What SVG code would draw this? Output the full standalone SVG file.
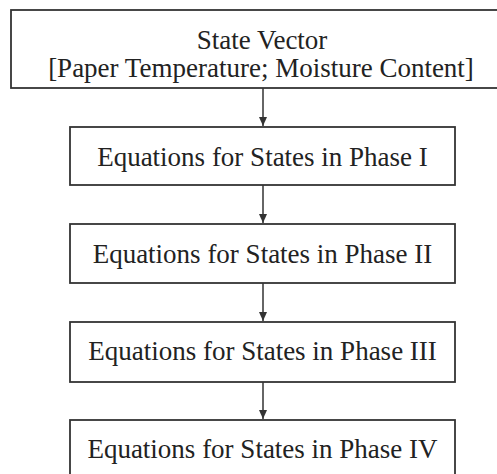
<svg xmlns="http://www.w3.org/2000/svg" width="497" height="474" viewBox="0 0 497 474">
<style>
.box{fill:#fff;stroke:#333;stroke-width:1.8}
.t{font-family:"Liberation Serif","Times New Roman",serif;font-size:27px;fill:#222;text-anchor:middle}
.c{stroke:#333;stroke-width:1.5;fill:none}
</style>
<defs>
<marker id="ah" markerWidth="10" markerHeight="10" refX="9" refY="5" orient="auto" markerUnits="userSpaceOnUse">
<path d="M0,1 L9,5 L0,9 Z" fill="#333"/>
</marker>
</defs>
<rect width="497" height="474" fill="#fff"/>
<g id="connectors">
<line class="c" x1="263" y1="88" x2="263" y2="126" marker-end="url(#ah)"/>
<line class="c" x1="263" y1="185" x2="263" y2="223" marker-end="url(#ah)"/>
<line class="c" x1="263" y1="283" x2="263" y2="321" marker-end="url(#ah)"/>
<line class="c" x1="263" y1="382" x2="263" y2="419" marker-end="url(#ah)"/>
</g>
<g id="state-vector">
<rect class="box" x="11" y="10" width="503" height="78"/>
<text class="t" x="262" y="49">State Vector</text>
<text class="t" x="261" y="77">[Paper Temperature; Moisture Content]</text>
</g>
<g id="phase1">
<rect class="box" x="70" y="127" width="385" height="58"/>
<text class="t" x="262.5" y="166">Equations for States in Phase I</text>
</g>
<g id="phase2">
<rect class="box" x="70" y="224" width="385" height="59"/>
<text class="t" x="262.5" y="263">Equations for States in Phase II</text>
</g>
<g id="phase3">
<rect class="box" x="70" y="322" width="385" height="60"/>
<text class="t" x="262.5" y="360">Equations for States in Phase III</text>
</g>
<g id="phase4">
<rect class="box" x="70" y="420" width="385" height="62"/>
<text class="t" x="262.5" y="458">Equations for States in Phase IV</text>
</g>
</svg>
